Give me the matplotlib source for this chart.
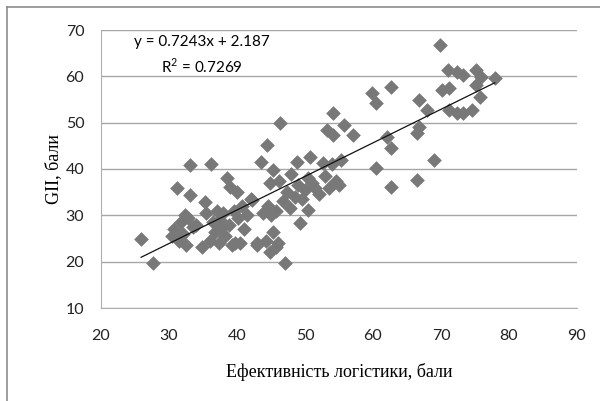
import matplotlib
matplotlib.use("Agg")
import matplotlib.pyplot as plt
from matplotlib.lines import Line2D
import numpy as np

# logistics efficiency (x) vs GII score (y)
logistics = [25.9, 27.6, 30.5, 30.8, 31.2, 31.5, 31.8, 32.0, 32.3, 32.5,
             32.8, 33.1, 33.1, 33.5, 34.0, 34.8, 35.3, 35.5, 36.0, 36.2,
             36.5, 36.8, 37.0, 37.3, 37.5, 37.8, 38.0, 38.3, 38.6, 38.8,
             39.0, 39.2, 39.5, 39.7, 40.0, 40.2, 40.5, 40.8, 41.0, 41.5,
             42.0, 42.2, 42.9, 43.0, 43.6, 43.8, 44.4, 44.2, 44.5, 44.8,
             44.8, 45.0, 45.3, 45.3, 45.8, 45.8, 46.0, 46.2, 46.3, 46.8,
             47.0, 47.3, 47.8, 48.0, 48.5, 48.8, 49.0, 49.2, 49.5, 50.0,
             50.4, 50.7, 50.5, 51.0, 51.5, 52.0, 52.6, 53.0, 53.2, 53.5,
             54.1, 54.1, 54.0, 54.5, 55.0, 55.3, 55.8, 57.0, 59.8, 60.5,
             60.5, 62.1, 62.7, 62.7, 62.7, 66.5, 66.5, 66.8, 66.8, 67.9,
             69.0, 69.8, 70.2, 71.0, 71.2, 71.2, 72.3, 72.3, 73.2, 73.2,
             74.5, 75.2, 75.2, 75.7, 75.9, 77.9]
gii = [25.0, 19.8, 25.5, 27.0, 35.9, 24.5, 28.5, 26.0, 30.0, 23.5,
       29.5, 40.9, 34.4, 27.5, 28.0, 23.2, 32.9, 30.5, 24.5, 41.1,
       28.5, 26.5, 31.0, 24.0, 29.0, 27.5, 30.5, 25.5, 38.1, 28.0,
       36.1, 23.5, 31.0, 24.0, 35.0, 29.5, 24.0, 32.0, 27.0, 30.0,
       33.5, 33.3, 24.0, 23.5, 41.5, 30.5, 45.2, 24.5, 32.0, 37.0,
       22.1, 30.0, 39.8, 26.4, 31.0, 23.2, 24.0, 37.5, 49.9, 33.0,
       19.7, 35.0, 31.5, 39.0, 34.0, 41.5, 36.5, 28.3, 33.5, 35.5,
       31.2, 42.6, 38.0, 37.0, 36.0, 34.5, 41.3, 38.5, 48.4, 36.0,
       52.0, 47.3, 41.0, 37.5, 36.5, 42.0, 49.5, 47.3, 56.4, 54.2,
       40.2, 46.9, 57.7, 44.5, 36.1, 47.8, 37.6, 49.0, 55.0, 52.7,
       42.0, 66.8, 57.0, 61.4, 57.5, 52.7, 61.0, 52.0, 60.3, 52.0,
       52.7, 61.4, 58.1, 55.5, 59.9, 59.6]

# trendline shown on the chart
slope = 0.7243
intercept = 2.187
eq_text = "y = 0.7243x + 2.187"
r2_text = "R$^2$ = 0.7269"

x_ticks = [20, 30, 40, 50, 60, 70, 80, 90]
y_ticks = [10, 20, 30, 40, 50, 60, 70]

plt.rcParams["mathtext.fontset"] = "custom"
plt.rcParams["mathtext.rm"] = "Lato"

fig = plt.figure(figsize=(6, 4.01), dpi=100)
ax = fig.add_axes([101 / 600, 1 - 308 / 401, 476 / 600, 278 / 401])

ax.scatter(logistics, gii, marker="D", s=56, color="#787878", linewidths=0, zorder=3)

xs = np.array([min(logistics), max(logistics)])
ax.plot(xs, slope * xs + intercept, color="#111111", lw=0.9, zorder=4)

ax.set_xlim(20, 90)
ax.set_ylim(10, 70)
ax.set_xticks(x_ticks)
ax.set_yticks(y_ticks)
ax.tick_params(length=0, labelsize=11.5, colors="#222222")
ax.tick_params(axis="x", pad=15)
ax.tick_params(axis="y", pad=12)
for lab in ax.get_xticklabels() + ax.get_yticklabels():
    lab.set_family(["Lato", "DejaVu Sans"])
ax.yaxis.grid(True, color="#a6a6a6", lw=1)
ax.set_axisbelow(True)
for side in ["top", "right"]:
    ax.spines[side].set_visible(False)
for side in ["left", "bottom"]:
    ax.spines[side].set_color("#b0b0b0")

ax.set_xlabel("Ефективність логістики, бали", family="Liberation Serif", fontsize=13, va="center")
ax.set_ylabel("GII, бали", family="Liberation Serif", fontsize=13, va="center")
ax.xaxis.set_label_coords(0.5, -(372 - 308) / 278)
ax.yaxis.set_label_coords((54 - 101) / 476, 0.5)

ax.text(202 / 600, 1 - 42 / 401, eq_text, transform=fig.transFigure, ha="center", va="center",
        fontsize=11, family=["Lato", "DejaVu Sans"])
ax.text(202 / 600, 1 - 66 / 401, r2_text, transform=fig.transFigure, ha="center", va="center",
        fontsize=11, family=["Lato", "DejaVu Sans"])

# chart frame (left and top edges visible)
fig.add_artist(Line2D([7 / 600, 7 / 600], [0, 1 - 7 / 401], color="#8c8c8c", lw=1.2))
fig.add_artist(Line2D([7 / 600, 1], [1 - 7 / 401, 1 - 7 / 401], color="#8c8c8c", lw=1.2))

fig.savefig("out.png", dpi=100)
